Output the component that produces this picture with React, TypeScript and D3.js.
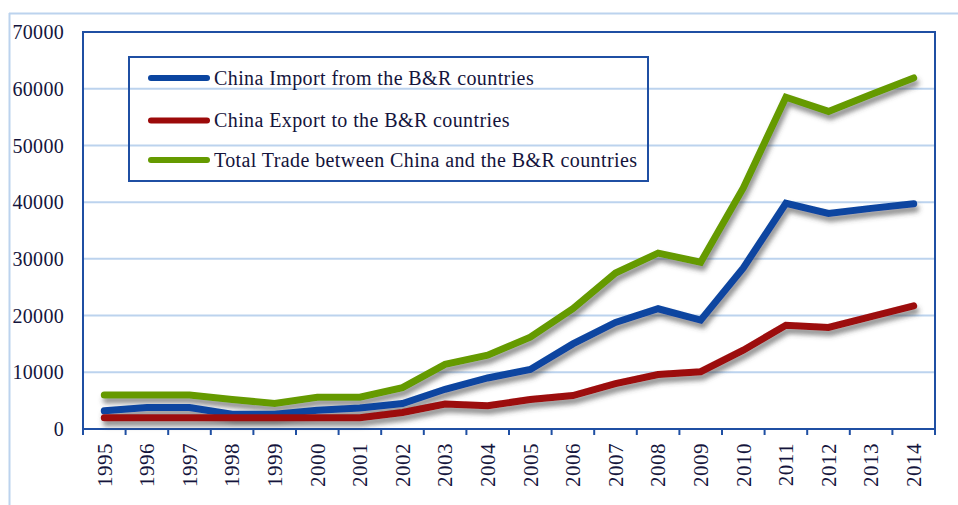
import { useEffect, useRef } from 'react'
import * as d3 from 'd3'

const years = [
  '1995', '1996', '1997', '1998', '1999', '2000', '2001', '2002', '2003', '2004',
  '2005', '2006', '2007', '2008', '2009', '2010', '2011', '2012', '2013', '2014',
]

const importValues = [
  3200, 3800, 3800, 2600, 2600, 3300, 3700, 4500, 7000, 9000,
  10500, 15000, 18800, 21200, 19200, 28400, 39800, 38000, 38900, 39700,
]

const exportValues = [
  2000, 2000, 2000, 2000, 2000, 2000, 2000, 2900, 4400, 4100,
  5200, 5900, 8000, 9600, 10100, 13900, 18300, 17900, 19800, 21700,
]

const totalValues = [
  6000, 6000, 6000, 5200, 4500, 5600, 5600, 7300, 11400, 13000,
  16200, 21200, 27500, 31000, 29400, 42500, 58500, 56000, 59000, 61900,
]

const yTicks = [0, 10000, 20000, 30000, 40000, 50000, 60000, 70000]

const seriesNames = [
  'China Import from the B&R countries',
  'China Export to the B&R countries',
  'Total Trade between China and the B&R countries',
]

const seriesColors = ['#0b45a0', '#9c0a0a', '#659a00']

const W = 958
const H = 505
const FONT = 'Liberation Serif, Times New Roman, DejaVu Serif, serif'
const TEXT = '#14143c'
const FRAME = '#1f4fa3'
const GRID = '#bcd3ee'

export default function App() {
  const svgRef = useRef<SVGSVGElement>(null)

  useEffect(() => {
    const svgEl = svgRef.current
    if (!svgEl) return

    const margin = { top: 32, right: 23, bottom: 76, left: 83 }
    const innerW = W - margin.left - margin.right
    const innerH = H - margin.top - margin.bottom

    const svg = d3.select(svgEl)
    svg.selectAll('*').remove()

    const defs = svg.append('defs')
    const f = defs.append('filter').attr('id', 'shadow')
      .attr('x', '-10%').attr('y', '-10%').attr('width', '120%').attr('height', '130%')
    f.append('feDropShadow')
      .attr('dx', 2).attr('dy', 5).attr('stdDeviation', 2.4)
      .attr('flood-color', '#444').attr('flood-opacity', 0.6)

    // outer light frame
    svg.append('line').attr('x1', 9).attr('x2', W).attr('y1', 13.5).attr('y2', 13.5)
      .style('stroke', GRID).style('stroke-width', 2)
    svg.append('line').attr('x1', 9.5).attr('x2', 9.5).attr('y1', 13).attr('y2', H)
      .style('stroke', GRID).style('stroke-width', 2)

    const x = d3.scaleBand().domain(years).range([0, innerW])
    const y = d3.scaleLinear().domain([0, 70000]).range([innerH, 0])

    const g = svg.append('g').attr('transform', `translate(${margin.left},${margin.top})`)

    // Gridlines
    g.append('g')
      .selectAll('line')
      .data(yTicks.filter(d => d > 0 && d < 70000))
      .enter()
      .append('line')
      .attr('x1', 0).attr('x2', innerW)
      .attr('y1', d => y(d)).attr('y2', d => y(d))
      .style('stroke', GRID).style('stroke-width', 2)

    // plot frame
    g.append('rect').attr('x', 0).attr('y', 0).attr('width', innerW).attr('height', innerH)
      .style('fill', 'none').style('stroke', FRAME).style('stroke-width', 2)

    // Y axis labels
    g.append('g')
      .selectAll('text')
      .data(yTicks)
      .enter()
      .append('text')
      .attr('x', -19)
      .attr('y', d => y(d))
      .attr('dy', '0.36em')
      .attr('text-anchor', 'end')
      .style('fill', TEXT)
      .style('font-size', '20px')
      .style('letter-spacing', '0.3px')
      .style('font-family', FONT)
      .text(d => String(d))

    // X axis ticks (between categories)
    const tickPos = years.map((_, i) => i * x.bandwidth()).concat([innerW])
    g.append('g')
      .selectAll('line')
      .data(tickPos)
      .enter()
      .append('line')
      .attr('x1', d => d).attr('x2', d => d)
      .attr('y1', innerH).attr('y2', innerH + 6)
      .style('stroke', FRAME).style('stroke-width', 2)

    g.append('g')
      .selectAll('text')
      .data(years)
      .enter()
      .append('text')
      .attr('transform', d => `translate(${x(d)! + x.bandwidth() / 2},${innerH + 14}) rotate(-90)`)
      .attr('dy', '0.35em')
      .attr('text-anchor', 'end')
      .style('fill', TEXT)
      .style('font-size', '21px')
      .style('letter-spacing', '0.5px')
      .style('font-family', FONT)
      .text(d => d)

    // Lines
    const line = d3.line<number>()
      .x((_, i) => x(years[i])! + x.bandwidth() / 2)
      .y(d => y(d))

    const series = [importValues, exportValues, totalValues]
    // draw order: total first, then import, then export on top
    const order = [2, 0, 1]
    order.forEach(k => {
      g.append('path')
        .datum(series[k])
        .attr('fill', 'none')
        .attr('d', line)
        .attr('filter', 'url(#shadow)')
        .style('stroke', seriesColors[k])
        .style('stroke-width', 7)
        .style('stroke-linejoin', 'miter')
        .style('stroke-linecap', 'round')
    })

    // Legend
    const lg = svg.append('g')
    lg.append('rect').attr('x', 129).attr('y', 57).attr('width', 519).attr('height', 124)
      .style('fill', 'none').style('stroke', FRAME).style('stroke-width', 2)
    const rows = lg.selectAll('g.row')
      .data(seriesNames)
      .enter()
      .append('g')
      .attr('class', 'row')
      .attr('transform', (_, i) => `translate(0,${[78, 120.5, 160][i]})`)
    rows.append('line')
      .attr('x1', 151).attr('x2', 207).attr('y1', 0).attr('y2', 0)
      .style('stroke', (_, i) => seriesColors[i])
      .style('stroke-width', 6)
      .style('stroke-linecap', 'round')
    rows.append('text')
      .attr('x', 214)
      .attr('y', 0)
      .attr('dy', '0.34em')
      .style('fill', TEXT)
      .style('font-size', '20px')
      .style('letter-spacing', '0.4px')
      .style('font-family', FONT)
      .text(d => d)
  }, [])

  return (
    <div style={{ position: 'absolute', left: 0, top: 0, width: W, height: H, background: '#fff' }}>
      <svg ref={svgRef} width={W} height={H} style={{ display: 'block' }} />
    </div>
  )
}
